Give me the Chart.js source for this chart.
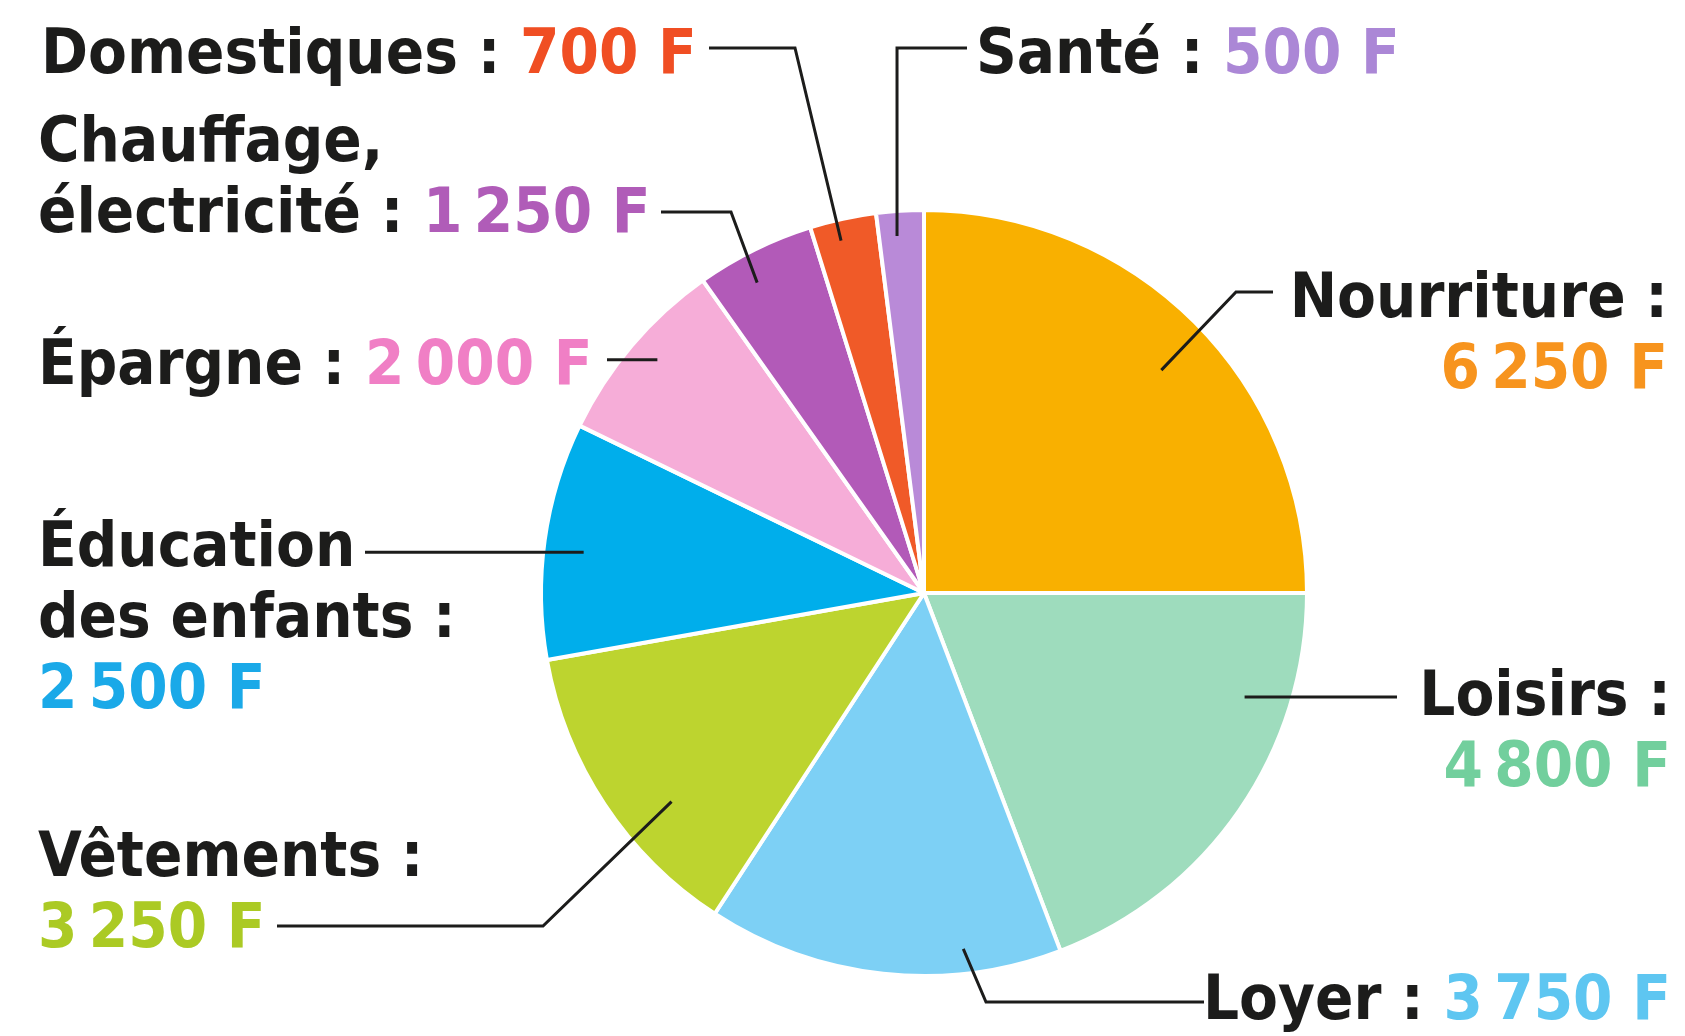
<!DOCTYPE html>
<html lang="fr">
<head>
<meta charset="utf-8">
<script src="https://cdn.jsdelivr.net/npm/chart.js@4.4.1/dist/chart.umd.min.js"></script>
<style>
  html, body { margin: 0; padding: 0; background: #fff; }
  #wrap { position: relative; width: 1685px; height: 1036px; }
</style>
</head>
<body>
<div id="wrap"><canvas id="budget-chart"></canvas></div>
<script>
const categories = ["Nourriture", "Loisirs", "Loyer", "Vêtements", "Éducation des enfants", "Épargne", "Chauffage, électricité", "Domestiques", "Santé"];
const amounts = [6250, 4800, 3750, 3250, 2500, 2000, 1250, 700, 500];
const sliceColors = ["#f9b000", "#9edcbd", "#7dd0f5", "#bdd42f", "#00aeeb", "#f6add8", "#b25ab8", "#f05a28", "#b98ad8"];
const valueColors = ["#f7941e", "#72cf9d", "#5ec6f1", "#abca24", "#1aa9e8", "#f07fc5", "#b05cb8", "#f04e23", "#ab87d6"];

// text lines per slice, "{v}" is replaced by the formatted amount
const labelLines = [
  [["Nourriture :"], ["{v}"]],
  [["Loisirs :"], ["{v}"]],
  [["Loyer : ", "{v}"]],
  [["Vêtements :"], ["{v}"]],
  [["Éducation"], ["des enfants :"], ["{v}"]],
  [["Épargne : ", "{v}"]],
  [["Chauffage,"], ["électricité : ", "{v}"]],
  [["Domestiques : ", "{v}"]],
  [["Santé : ", "{v}"]]
];

// where each label sits and how its leader line runs (t / r = position inside the slice)
const labelLayout = [
  { x: 1668, y: 317, align: "right", lineX: 1273, lineY: 292, elbowX: 1236, t: 0.52, r: 0.85 },
  { x: 1671, y: 715, align: "right", lineX: 1397, lineY: null, elbowX: null, t: 0.26, r: 0.88 },
  { x: 1671, y: 1019, align: "right", lineX: 1204, lineY: 1002, elbowX: 986, t: 0.27, r: 0.935 },
  { x: 38, y: 876, align: "left", lineX: 277, lineY: 926, elbowX: 543, t: 0.37, r: 0.855 },
  { x: 38, y: 566, align: "left", lineX: 365, lineY: null, elbowX: null, t: 0.47, r: 0.895 },
  { x: 38, y: 384, align: "left", lineX: 607, lineY: null, elbowX: null, t: 0.53, r: 0.925 },
  { x: 38, y: 161, align: "left", lineX: 661, lineY: 212, elbowX: 731, t: 0.39, r: 0.92 },
  { x: 41, y: 73, align: "left", lineX: 709, lineY: 48, elbowX: 795, t: 0.40, r: 0.945 },
  { x: 976, y: 73, align: "left", lineX: 967, lineY: 48, elbowX: "point", t: 0.40, r: 0.935 }
];

const LINE_H = 71;
const FONT = 'bold 63px "DejaVu Sans Condensed", "DejaVu Sans", sans-serif';
const INK = "#1c1c1b";

const fmt = (v) => String(v).replace(/\B(?=(\d{3})+(?!\d))/g, "\u2009") + " F";

const calloutPlugin = {
  id: "callouts",
  afterDatasetsDraw(chart) {
    const ctx = chart.ctx;
    const arcs = chart.getDatasetMeta(0).data;
    ctx.save();
    ctx.strokeStyle = INK;
    ctx.lineWidth = 3;
    ctx.lineJoin = "miter";
    ctx.font = FONT;
    ctx.textBaseline = "alphabetic";

    labelLayout.forEach((lab, i) => {
      const a = arcs[i].getProps(["x", "y", "startAngle", "endAngle", "outerRadius"], true);
      const ang = a.startAngle + (a.endAngle - a.startAngle) * lab.t;
      const rr = a.outerRadius * lab.r;
      const px = a.x + Math.cos(ang) * rr;
      const py = a.y + Math.sin(ang) * rr;

      const sy = lab.lineY == null ? py : lab.lineY;
      ctx.beginPath();
      ctx.moveTo(lab.lineX, sy);
      if (lab.elbowX === "point") ctx.lineTo(px, sy);
      else if (lab.elbowX != null) ctx.lineTo(lab.elbowX, sy);
      ctx.lineTo(px, py);
      ctx.stroke();

      labelLines[i].forEach((parts, k) => {
        const y = lab.y + k * LINE_H;
        const segs = parts.map((p) => p === "{v}"
          ? { text: fmt(amounts[i]), color: valueColors[i] }
          : { text: p, color: INK });
        const w = segs.reduce((s, g) => s + ctx.measureText(g.text).width, 0);
        let x = lab.align === "right" ? lab.x - w : lab.x;
        segs.forEach((g) => {
          ctx.fillStyle = g.color;
          ctx.fillText(g.text, x, y);
          x += ctx.measureText(g.text).width;
        });
      });
    });
    ctx.restore();
  }
};

new Chart(document.getElementById("budget-chart"), {
  type: "pie",
  data: {
    labels: categories,
    datasets: [{
      data: amounts,
      backgroundColor: sliceColors,
      borderColor: "#ffffff",
      borderWidth: 4,
      radius: 383
    }]
  },
  options: {
    responsive: true,
    maintainAspectRatio: false,
    animation: false,
    layout: { padding: { left: 541, right: 378, top: 210, bottom: 60 } },
    plugins: {
      legend: { display: false },
      tooltip: { enabled: false }
    }
  },
  plugins: [calloutPlugin]
});
</script>
</body>
</html>
